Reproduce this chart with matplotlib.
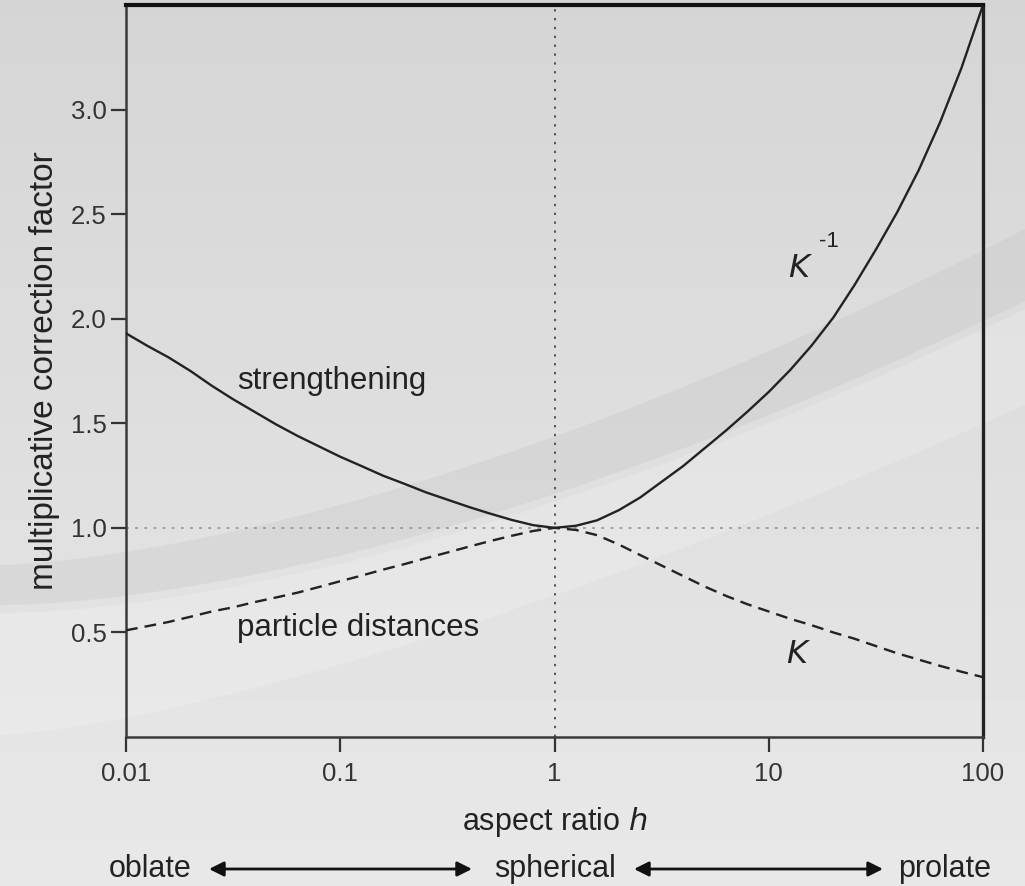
import numpy as np
import matplotlib.pyplot as plt
from matplotlib.patches import FancyArrowPatch

plt.rcParams['font.family'] = ['Liberation Sans', 'DejaVu Sans']

# aspect ratio h (log-spaced) and values
h = [0.01, 0.0126, 0.0158, 0.02, 0.0251, 0.0316, 0.0398, 0.0501, 0.0631, 0.0794,
     0.1, 0.126, 0.158, 0.2, 0.251, 0.316, 0.398, 0.501, 0.631, 0.794,
     1.0, 1.26, 1.58, 2.0, 2.51, 3.16, 3.98, 5.01, 6.31, 7.94,
     10.0, 12.6, 15.8, 20.0, 25.1, 31.6, 39.8, 50.1, 63.1, 79.4, 100.0]
K = [0.51, 0.53, 0.55, 0.575, 0.60, 0.62, 0.645, 0.667, 0.69, 0.717,
     0.745, 0.772, 0.80, 0.827, 0.855, 0.882, 0.91, 0.937, 0.962, 0.985,
     1.0, 0.99, 0.965, 0.92, 0.87, 0.82, 0.77, 0.72, 0.675, 0.635,
     0.60, 0.565, 0.535, 0.50, 0.47, 0.435, 0.40, 0.37, 0.34, 0.312, 0.286]
K_inv = [1.93, 1.87, 1.815, 1.75, 1.68, 1.615, 1.555, 1.495, 1.44, 1.39,
         1.34, 1.295, 1.25, 1.21, 1.17, 1.135, 1.10, 1.068, 1.038, 1.013,
         1.0, 1.01, 1.036, 1.085, 1.145, 1.22, 1.295, 1.38, 1.465, 1.555,
         1.65, 1.755, 1.87, 2.005, 2.16, 2.33, 2.51, 2.71, 2.94, 3.2, 3.5]

fig = plt.figure(figsize=(10.25, 8.86), dpi=100)

# background: soft grey gradient with a swoosh
bg = fig.add_axes([0, 0, 1, 1], zorder=-10)
bg.set_xlim(0, 1025)
bg.set_ylim(886, 0)
bg.axis('off')
yy = np.linspace(0, 1, 200)[:, None] * np.ones((1, 50))
bg.imshow(0.835 + 0.075 * yy, cmap='gray', vmin=0, vmax=1,
          extent=[0, 1025, 886, 0], aspect='auto')
xs = np.linspace(0, 1025, 300)
t = xs / 1025
mid = 585 - 320 * t ** 1.6
half = 20 + 16 * t
bg.fill_between(xs, mid - half, mid + half, color='#b8b8b8', alpha=0.22, lw=0)
bg.fill_between(xs, mid + half + 8, 735 - 330 * t ** 1.4, color='white', alpha=0.18, lw=0)

ax = fig.add_axes([126 / 1025, 1 - 737 / 886, (983 - 126) / 1025, (737 - 5) / 886])
ax.patch.set_alpha(0)
ax.set_xscale('log')
ax.set_xlim(0.01, 100)
ax.set_ylim(0, 3.5)

ax.axhline(1.0, color='#a0a0a0', lw=1.4, ls=(0, (1.5, 3.2)), zorder=1)
ax.axvline(1.0, color='#4a4a4a', lw=1.3, ls=(0, (1.3, 3.6)), zorder=1)

ax.plot(h, K_inv, color='#222222', lw=1.7, zorder=3, solid_joinstyle='round')
ax.plot(h, K, color='#222222', lw=1.7, ls=(0, (5, 3)), zorder=3)

ax.set_xticks([0.01, 0.1, 1, 10, 100])
ax.set_xticklabels(['0.01', '0.1', '1', '10', '100'])
ax.minorticks_off()
ax.set_yticks([0.5, 1.0, 1.5, 2.0, 2.5, 3.0])
ax.set_yticklabels(['0.5', '1.0', '1.5', '2.0', '2.5', '3.0'])
ax.tick_params(axis='both', labelsize=18.5, colors='#333333', length=11, width=1.6)
ax.tick_params(axis='y', pad=3)
ax.tick_params(axis='x', pad=7)
ax.yaxis.get_major_ticks()[1].tick1line.set_color('#a8a8a8')

for side in ['left', 'bottom']:
    ax.spines[side].set_color('#3a3a3a')
    ax.spines[side].set_linewidth(1.8)
ax.spines['top'].set_color('#111111')
ax.spines['top'].set_linewidth(3)
ax.spines['right'].set_color('#222222')
ax.spines['right'].set_linewidth(2.4)

ax.set_ylabel('multiplicative correction factor', fontsize=24, color='#222222', labelpad=8)
ax.set_xlabel('aspect ratio $\\it{h}$', fontsize=22, color='#222222', labelpad=14)

ax.text(0.033, 1.70, 'strengthening', fontsize=22.5, color='#222222', va='center')
ax.text(0.033, 0.52, 'particle distances', fontsize=22.5, color='#222222', va='center')
ax.text(12.3, 2.24, '$\\mathit{K}$', fontsize=23, color='#222222', va='center')
ax.text(17.2, 2.37, '-1', fontsize=16, color='#222222', va='center')
ax.text(12.0, 0.39, '$\\mathit{K}$', fontsize=23, color='#222222', va='center')

# oblate / spherical / prolate row
fy = 1 - 869 / 886
fig.text(150 / 1025, fy, 'oblate', fontsize=22, color='#222222', ha='center', va='center')
fig.text(555 / 1025, fy, 'spherical', fontsize=22, color='#222222', ha='center', va='center')
fig.text(945 / 1025, fy, 'prolate', fontsize=22, color='#222222', ha='center', va='center')
arr = dict(arrowstyle='<|-|>', color='#111111', lw=2.0, mutation_scale=22,
           shrinkA=0, shrinkB=0, transform=fig.transFigure)
fig.add_artist(FancyArrowPatch((209 / 1025, fy), (472 / 1025, fy), **arr))
fig.add_artist(FancyArrowPatch((634 / 1025, fy), (883 / 1025, fy), **arr))

fig.savefig('out.png', dpi=100)
